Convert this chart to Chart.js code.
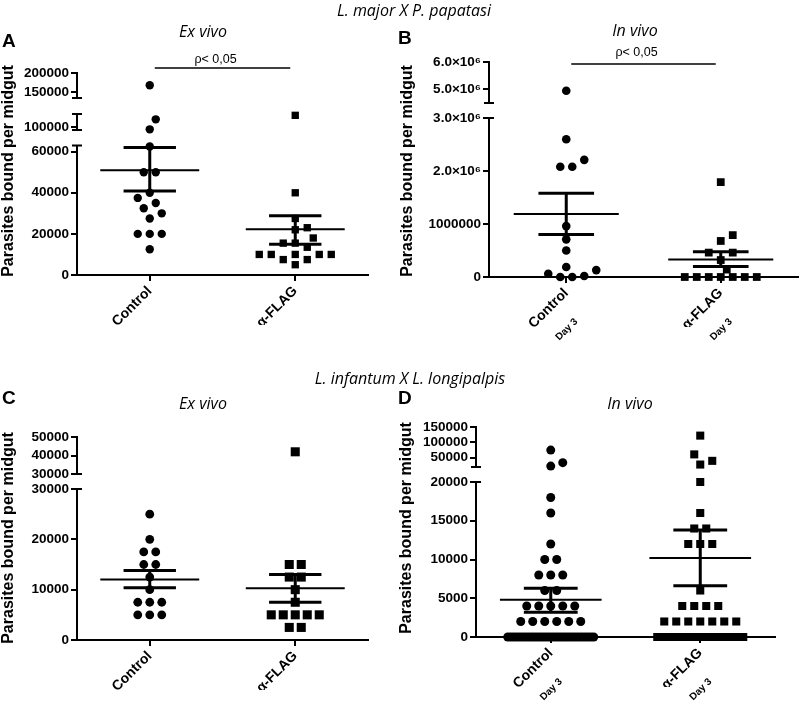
<!DOCTYPE html>
<html>
<head>
<meta charset="utf-8">
<script src="https://cdn.jsdelivr.net/npm/chart.js@4.4.1/dist/chart.umd.min.js"></script>
<style>
  body { margin: 0; background: #fff; }
  #fig { position: relative; width: 800px; height: 707px; overflow: hidden; background: #fff; }
  canvas { position: absolute; }
  .t { position: absolute; white-space: nowrap; color: #000; }
  .it { font: italic 16px 'Open Sans', sans-serif; transform: translate(-50%, -50%); }
  .let { font: bold 19px 'Liberation Sans', Arial, sans-serif; transform: translate(0, -50%); }
  .yt { font: bold 16px 'Liberation Sans', Arial, sans-serif; transform: translate(-50%, -50%) rotate(-90deg); }
</style>
</head>
<body>
<div id="fig">
  <canvas id="cA" width="400" height="350" style="left:0;top:0;width:400px;height:350px"></canvas>
  <canvas id="cB" width="400" height="350" style="left:400px;top:0;width:400px;height:350px"></canvas>
  <canvas id="cC" width="400" height="347" style="left:0;top:360px;width:400px;height:347px"></canvas>
  <canvas id="cD" width="400" height="347" style="left:400px;top:360px;width:400px;height:347px"></canvas>

  <div class="t it" style="left:414px;top:10px">L. major X P. papatasi</div>
  <div class="t it" style="left:410px;top:378px">L. infantum X L. longipalpis</div>

  <div class="t let" style="left:2px;top:41px">A</div>
  <div class="t let" style="left:398px;top:38px">B</div>
  <div class="t let" style="left:2px;top:398px">C</div>
  <div class="t let" style="left:398px;top:398px">D</div>

  <div class="t it" style="left:203px;top:31px">Ex vivo</div>
  <div class="t it" style="left:635px;top:30px">In vivo</div>
  <div class="t it" style="left:203px;top:403px">Ex vivo</div>
  <div class="t it" style="left:630px;top:403px">In vivo</div>

  <div class="t yt" style="left:8px;top:171px">Parasites bound per midgut</div>
  <div class="t yt" style="left:407px;top:171px">Parasites bound per midgut</div>
  <div class="t yt" style="left:8px;top:538px">Parasites bound per midgut</div>
  <div class="t yt" style="left:406px;top:528px">Parasites bound per midgut</div>
</div>

<script>
// ---------------- DATA ----------------
const categories = ['Control', 'α-FLAG'];
const dayLabel = 'Day 3';
const pValueText = 'ρ< 0,05';

// Panel A : L. major x P. papatasi, ex vivo
const aControl = [168000, 112000, 97000, 62500, 50000, 50000, 40000, 37500, 35000, 32500, 30000, 27500, 20000, 20000, 20000, 12500];
const aFlag = [118000, 40000, 27500, 23000, 22000, 18000, 15500, 15500, 13500, 10000, 10000, 10000, 10000, 10000, 7500, 7500, 5000];
const aMean = [51000, 22200];
const aSemHigh = [62000, 28800];
const aSemLow = [40900, 14900];
const aRanges = [[0, 63000], [96000, 120000], [135000, 200000]];
const aTicks = [[0, 20000, 40000, 60000], [100000], [150000, 200000]];
const aTickLabels = [['0', '20000', '40000', '60000'], ['100000'], ['150000', '200000']];

// Panel B : L. major x P. papatasi, in vivo (day 3)
const bControl = [4950000, 2600000, 2210000, 2080000, 2080000, 960000, 710000, 500000, 190000, 130000, 60000, 20000, 0, 0];
const bFlag = [1790000, 790000, 680000, 460000, 460000, 320000, 140000, 0, 0, 0, 0, 0, 0, 0];
const bMean = [1190000, 330000];
const bSemHigh = [1580000, 475000];
const bSemLow = [800000, 200000];
const bRanges = [[0, 3000000], [4500000, 6000000]];
const bTicks = [[0, 1000000, 2000000, 3000000], [5000000, 6000000]];
const bTickLabels = [['0', '1000000', '2.0×10⁶', '3.0×10⁶'], ['5.0×10⁶', '6.0×10⁶']];

// Panel C : L. infantum x L. longipalpis, ex vivo
const cControl = [25000, 20000, 17500, 17500, 15000, 15000, 12500, 10000, 7500, 7500, 7500, 5000, 5000, 5000];
const cFlag = [42000, 15000, 15000, 12500, 12500, 10000, 7500, 5000, 5000, 5000, 5000, 5000, 2500, 2500];
const cMean = [12000, 10300];
const cSemHigh = [13800, 13000];
const cSemLow = [10400, 7500];
const cRanges = [[0, 30000], [30000, 50000]];
const cTicks = [[0, 10000, 20000, 30000], [30000, 40000, 50000]];
const cTickLabels = [['0', '10000', '20000', '30000'], ['30000', '40000', '50000']];

// Panel D : L. infantum x L. longipalpis, in vivo (day 3)
const dControl = [75000, 34000, 23000, 18000, 16000, 12000, 10000, 10000, 8000, 8000, 8000, 6000, 6000,
  4000, 4000, 4000, 4000, 4000, 2000, 2000, 2000, 2000, 2000, 2000,
  0, 0, 0, 0, 0, 0, 0, 0, 0, 0, 0, 0, 0, 0, 0, 0, 0, 0, 0, 0, 0, 0, 0, 0, 0, 0, 0, 0, 0, 0, 0, 0];
const dFlag = [122000, 61000, 40000, 28000, 20000, 16000, 14000, 14000, 12000, 12000, 12000, 6000,
  4000, 4000, 4000, 4000, 2000, 2000, 2000, 2000, 2000, 2000, 2000,
  0, 0, 0, 0, 0, 0, 0, 0, 0, 0, 0, 0, 0, 0, 0];
const dMean = [4800, 10200];
const dSemHigh = [6300, 13800];
const dSemLow = [3200, 6600];
const dRanges = [[0, 20000], [20000, 150000]];
const dTicks = [[0, 5000, 10000, 15000, 20000], [50000, 100000, 150000]];
const dTickLabels = [['0', '5000', '10000', '15000', '20000'], ['50000', '100000', '150000']];

// ---------------- RENDERING ----------------
const FONT = "'Liberation Sans', Arial, sans-serif";
Chart.defaults.font.family = FONT;
Chart.defaults.color = '#000';

function swarm(items, s, d, maxHalf) {
  const placed = [];
  const collides = (ox, py) => placed.some(p => (p.ox - ox) ** 2 + (p.py - py) ** 2 < d * d);
  const rowsMap = new Map();
  items.forEach(it => { if (!rowsMap.has(it.v)) rowsMap.set(it.v, []); rowsMap.get(it.v).push(it); });
  const rows = Array.from(rowsMap.values()).sort((a, b) => b[0].py - a[0].py);
  const h = s / 2;
  const cands = [0];
  for (let k = 1; k * h <= maxHalf; k++) cands.push(k * h, -k * h);
  rows.forEach(row => {
    const n = row.length;
    const step = n > 1 ? Math.min(s, 2 * maxHalf / (n - 1)) : s;
    const centred = row.map((_, i) => (i - (n - 1) / 2) * step);
    if (step < s || centred.every((ox, i) => !collides(ox, row[i].py))) {
      row.forEach((it, i) => { it.ox = centred[i]; placed.push(it); });
      return;
    }
    row.forEach(it => {
      let best = cands.find(c => !collides(c, it.py));
      if (best === undefined) {
        let score = -1;
        cands.forEach(c => {
          const m = Math.min(...placed.map(p => Math.hypot(p.ox - c, p.py - it.py)));
          if (m > score) { score = m; best = c; }
        });
      }
      it.ox = best;
      placed.push(it);
    });
  });
}

function makePanel(cfg) {
  const canvas = document.getElementById(cfg.id);
  const W = canvas.width, H = canvas.height;
  const yW = 70, xH = 50;
  const nSeg = cfg.ranges.length;
  const scales = {};
  let order = 0;
  for (let i = 0; i < nSeg; i++) {
    scales['y' + i] = {
      axis: 'y', type: 'linear', position: 'left', stack: 'v', stackWeight: cfg.segPx[i], weight: order++,
      min: cfg.ranges[i][0], max: cfg.ranges[i][1], bounds: 'data',
      border: { display: true, color: '#000', width: 2 },
      grid: { display: true, drawOnChartArea: false, drawTicks: true, tickLength: 6, color: '#000', lineWidth: 2 },
      ticks: {
        autoSkip: false, color: '#000', padding: 2, font: { family: FONT, weight: 'bold', size: 13.5 },
        callback: (v, idx) => cfg.tickLabels[i][idx]
      },
      afterBuildTicks: sc => { sc.ticks = cfg.ticks[i].map(v => ({ value: v })); },
      afterFit: sc => { sc.width = yW; }
    };
    if (i < nSeg - 1) {
      scales['g' + i] = {
        axis: 'y', type: 'linear', position: 'left', stack: 'v', stackWeight: cfg.gapPx[i], weight: order++,
        min: 0, max: 1, display: true,
        border: { display: false }, grid: { display: false }, ticks: { display: false },
        afterFit: sc => { sc.width = yW; }
      };
    }
  }
  scales.x = {
    type: 'linear', position: 'bottom', min: -0.5, max: 1.5, bounds: 'data',
    border: { display: true, color: '#000', width: 2 },
    grid: { display: true, drawOnChartArea: false, drawTicks: true, tickLength: 6, color: '#000', lineWidth: 2 },
    ticks: {
      autoSkip: false, minRotation: 45, maxRotation: 45, padding: 2, color: '#000',
      font: { family: FONT, weight: 'bold', size: 14 },
      callback: v => categories[Math.round(v)]
    },
    afterBuildTicks: sc => { sc.ticks = [{ value: 0 }, { value: 1 }]; },
    afterFit: sc => { sc.height = xH; }
  };

  const segOf = v => cfg.ranges.findIndex(r => v >= r[0] && v <= r[1]);
  const datasets = [];
  const groupSets = [];
  cfg.groups.forEach((g, gi) => {
    const sets = [];
    for (let si = 0; si < nSeg; si++) {
      const vals = g.values.filter(v => segOf(v) === si);
      if (!vals.length) continue;
      const ds = {
        data: vals.map(v => ({ x: gi, y: v })), yAxisID: 'y' + si,
        pointStyle: g.style, pointRadius: g.r, pointHoverRadius: g.r,
        backgroundColor: '#000', borderColor: '#000', borderWidth: 0,
        showLine: false, clip: false
      };
      datasets.push(ds);
      sets.push(ds);
    }
    groupSets.push(sets);
  });

  const meanData = [], semData = [];
  [0, 1].forEach(gi => {
    const m = cfg.mean[gi], hi = cfg.semHigh[gi], lo = cfg.semLow[gi];
    meanData.push({ x: gi - 0.34, y: m }, { x: gi + 0.34, y: m }, { x: gi + 0.34, y: null });
    semData.push({ x: gi - 0.18, y: hi }, { x: gi + 0.18, y: hi }, { x: gi + 0.18, y: null },
      { x: gi - 0.18, y: lo }, { x: gi + 0.18, y: lo }, { x: gi + 0.18, y: null },
      { x: gi, y: lo }, { x: gi, y: hi }, { x: gi, y: null });
  });
  datasets.push({ data: meanData, yAxisID: 'y0', showLine: true, spanGaps: false, pointRadius: 0, borderColor: '#000', borderWidth: 2, clip: false });
  datasets.push({ data: semData, yAxisID: 'y0', showLine: true, spanGaps: false, pointRadius: 0, borderColor: '#000', borderWidth: 3, clip: false });

  const decor = {
    id: 'decor',
    afterDraw(chart) {
      const ctx = chart.ctx;
      ctx.save();
      ctx.strokeStyle = '#000';
      ctx.fillStyle = '#000';
      // axis break caps
      ctx.lineWidth = 2;
      for (let i = 0; i < nSeg; i++) {
        const sc = chart.scales['y' + i];
        const x = Math.round(sc.right);
        const ends = [];
        if (i < nSeg - 1) ends.push(sc.top);
        if (i > 0) ends.push(sc.bottom);
        ends.forEach(y => { ctx.beginPath(); ctx.moveTo(x - 5, y); ctx.lineTo(x + 5, y); ctx.stroke(); });
      }
      const xs = chart.scales.x;
      // significance bar
      if (cfg.sig) {
        const x0 = xs.getPixelForValue(0) + 5, x1 = xs.getPixelForValue(1) - 5;
        ctx.lineWidth = 1.3;
        ctx.beginPath(); ctx.moveTo(x0, cfg.sig.lineY); ctx.lineTo(x1, cfg.sig.lineY); ctx.stroke();
        ctx.font = "12.5px " + FONT;
        ctx.textAlign = 'center'; ctx.textBaseline = 'middle';
        ctx.fillText(pValueText, (x0 + x1) / 2 - 7, cfg.sig.textY);
      }
      // secondary "Day 3" labels
      if (cfg.day) {
        ctx.font = "bold 10px " + FONT;
        ctx.textAlign = 'right'; ctx.textBaseline = 'middle';
        [0, 1].forEach(v => {
          const px = xs.getPixelForValue(v);
          ctx.save();
          ctx.translate(px + 10, xs.top + 43);
          ctx.rotate(-Math.PI / 4);
          ctx.fillText(dayLabel, 0, 0);
          ctx.restore();
        });
      }
      ctx.restore();
    }
  };

  const chart = new Chart(canvas, {
    type: 'scatter',
    data: { datasets },
    options: {
      responsive: false, animation: false, devicePixelRatio: 1, events: [],
      layout: { autoPadding: false, padding: { left: cfg.plot.l - yW, right: W - cfg.plot.r, top: cfg.plot.t, bottom: H - cfg.plot.b - xH } },
      plugins: { legend: { display: false }, tooltip: { enabled: false }, title: { display: false } },
      scales
    },
    plugins: [decor]
  });

  // horizontal scatter (beeswarm) placement computed from the chart's own scales
  const xs = chart.scales.x;
  const unit = xs.getPixelForValue(1) - xs.getPixelForValue(0);
  groupSets.forEach((sets, gi) => {
    const items = [];
    sets.forEach(ds => {
      const sc = chart.scales[ds.yAxisID];
      ds.data.forEach(pt => items.push({ v: pt.y, py: sc.getPixelForValue(pt.y), pt }));
    });
    swarm(items, 12, 11, 43);
    items.forEach(it => { it.pt.x = gi + it.ox / unit; });
  });
  chart.update('none');
  return chart;
}

makePanel({
  id: 'cA', plot: { l: 77, r: 368, t: 73, b: 275 },
  ranges: aRanges, ticks: aTicks, tickLabels: aTickLabels,
  segPx: [129.5, 16, 25], gapPx: [15.5, 16],
  groups: [{ values: aControl, style: 'circle', r: 4.2 }, { values: aFlag, style: 'rect', r: 5.2 }],
  mean: aMean, semHigh: aSemHigh, semLow: aSemLow,
  sig: { lineY: 68, textY: 60 }, day: false
});
makePanel({
  id: 'cB', plot: { l: 89, r: 398, t: 62, b: 277 },
  ranges: bRanges, ticks: bTicks, tickLabels: bTickLabels,
  segPx: [159, 41], gapPx: [15],
  groups: [{ values: bControl, style: 'circle', r: 4.3 }, { values: bFlag, style: 'rect', r: 5.5 }],
  mean: bMean, semHigh: bSemHigh, semLow: bSemLow,
  sig: { lineY: 64, textY: 53 }, day: true
});
makePanel({
  id: 'cC', plot: { l: 77, r: 368, t: 77, b: 280 },
  ranges: cRanges, ticks: cTicks, tickLabels: cTickLabels,
  segPx: [151, 37], gapPx: [15],
  groups: [{ values: cControl, style: 'circle', r: 4.4 }, { values: cFlag, style: 'rect', r: 6.4 }],
  mean: cMean, semHigh: cSemHigh, semLow: cSemLow,
  sig: null, day: false
});
makePanel({
  id: 'cD', plot: { l: 76, r: 375, t: 67, b: 277 },
  ranges: dRanges, ticks: dTicks, tickLabels: dTickLabels,
  segPx: [155, 40], gapPx: [15],
  groups: [{ values: dControl, style: 'circle', r: 4.5 }, { values: dFlag, style: 'rect', r: 5.7 }],
  mean: dMean, semHigh: dSemHigh, semLow: dSemLow,
  sig: null, day: true
});
</script>
</body>
</html>
